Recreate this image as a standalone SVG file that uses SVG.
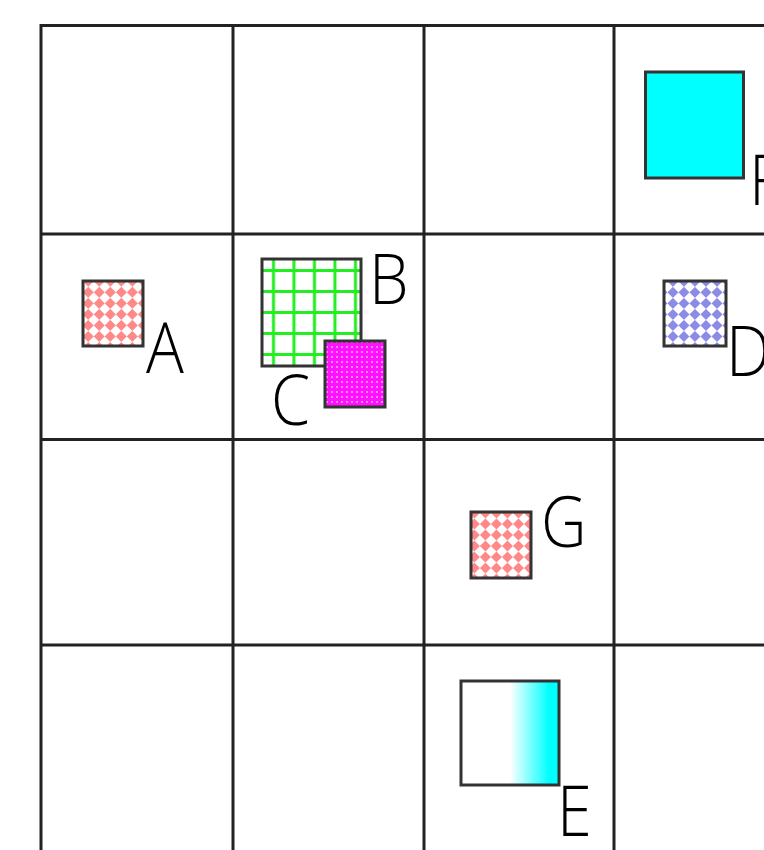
<svg xmlns="http://www.w3.org/2000/svg" width="764" height="850" viewBox="0 0 764 850">
<style>
.grid{stroke:#222;stroke-width:3;fill:none}
.box{stroke:#333;stroke-width:3}
.lbl{font-family:"Open Sans","Liberation Sans",sans-serif;font-weight:300;font-size:70px;fill:#000}
</style>
<defs>
<pattern id="redchk" width="15.6" height="15.6" patternUnits="userSpaceOnUse" patternTransform="rotate(45)">
<rect width="15.6" height="15.6" fill="#fff"/>
<rect width="7.8" height="7.8" fill="#ff8888"/>
<rect x="7.8" y="7.8" width="7.8" height="7.8" fill="#ff8888"/>
</pattern>
<pattern id="bluechk" width="15.6" height="15.6" patternUnits="userSpaceOnUse" patternTransform="rotate(45)">
<rect width="15.6" height="15.6" fill="#fff"/>
<rect width="7.8" height="7.8" fill="#8c8ce6"/>
<rect x="7.8" y="7.8" width="7.8" height="7.8" fill="#8c8ce6"/>
</pattern>
<pattern id="greengrid" x="263" y="260" width="20.5" height="21" patternUnits="userSpaceOnUse">
<rect width="20.5" height="21" fill="#fff"/>
<rect x="9" y="0" width="3" height="21" fill="#22ee22"/>
<rect x="0" y="9" width="20.5" height="3" fill="#22ee22"/>
</pattern>
<pattern id="magdots" width="5" height="5" patternUnits="userSpaceOnUse">
<rect width="5" height="5" fill="#ff11ff"/>
<rect x="1" y="1" width="2" height="2" fill="#ff88ff"/>
</pattern>
<linearGradient id="cyangrad" x1="0" y1="0" x2="1" y2="0">
<stop offset="0.5" stop-color="#ffffff"/>
<stop offset="0.9" stop-color="#00ffff"/>
</linearGradient>
</defs>
<rect width="764" height="850" fill="#fff"/>
<g id="grid">
<path class="grid" d="M41,850 V25.5 H764 M233,25 V850 M424,25 V850 M614,25 V850 M41,234 H764 M41,439.5 H764 M41,645 H764"/>
</g>
<g id="F"><rect class="box" x="645.5" y="72" width="98" height="106" fill="#00ffff" stroke="#000"/><text class="lbl" transform="translate(749,205) scale(0.9,1)">F</text></g>
<g id="A"><rect class="box" x="83" y="281" width="60" height="65" fill="url(#redchk)"/><text class="lbl" transform="translate(146,373) scale(0.9,1)">A</text></g>
<g id="B"><rect class="box" x="262" y="259" width="99" height="107" fill="url(#greengrid)"/><text class="lbl" transform="translate(369,304) scale(0.9,1)">B</text></g>
<g id="C"><rect class="box" x="325" y="341" width="60" height="66" fill="url(#magdots)" stroke="#222"/><text class="lbl" transform="translate(271,425) scale(0.9,1)">C</text></g>
<g id="D"><rect class="box" x="664" y="281" width="62" height="65" fill="url(#bluechk)"/><text class="lbl" transform="translate(726,376) scale(0.9,1)">D</text></g>
<g id="G"><rect class="box" x="471" y="512" width="60" height="66" fill="url(#redchk)" stroke="#111"/><text class="lbl" transform="translate(541,547) scale(0.9,1)">G</text></g>
<g id="E"><rect class="box" x="461" y="681" width="98" height="104" fill="url(#cyangrad)"/><text class="lbl" transform="translate(557,836) scale(0.9,1)">E</text></g>
<g id="connectors"></g>
</svg>
